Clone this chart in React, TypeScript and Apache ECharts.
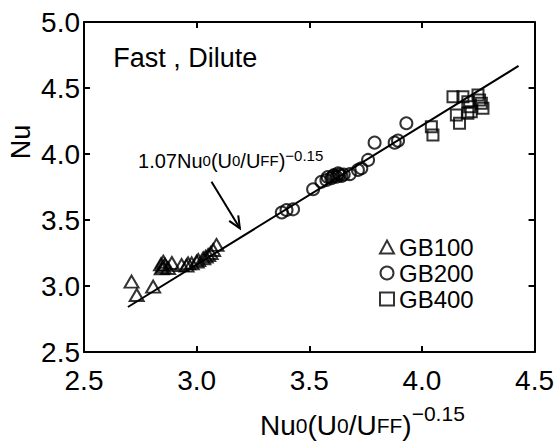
import React, { useEffect, useRef } from "react";
import * as echarts from "echarts";

// Axis settings
const X_MIN = 2.5;
const X_MAX = 4.5;
const Y_MIN = 2.5;
const Y_MAX = 5.0;
const TICK_INTERVAL = 0.5;

// GB100 (triangles)
const GB100: [number, number][] = [
  [2.711, 3.033],
  [2.734, 2.932],
  [2.807, 2.995],
  [2.852, 3.146],
  [2.873, 3.136],
  [2.845, 3.134],
  [2.852, 3.184],
  [2.86, 3.16],
  [2.842, 3.165],
  [2.89, 3.174],
  [2.933, 3.159],
  [2.955, 3.154],
  [2.962, 3.172],
  [2.978, 3.172],
  [3.0, 3.185],
  [3.007, 3.197],
  [3.029, 3.21],
  [3.04, 3.222],
  [3.051, 3.235],
  [3.062, 3.25],
  [3.073, 3.273],
  [3.088, 3.311],
];

// GB200 (circles)
const GB200: [number, number][] = [
  [3.378, 3.557],
  [3.399, 3.576],
  [3.428, 3.581],
  [3.517, 3.733],
  [3.554, 3.79],
  [3.576, 3.803],
  [3.582, 3.826],
  [3.598, 3.816],
  [3.605, 3.83],
  [3.61, 3.84],
  [3.621, 3.828],
  [3.628, 3.854],
  [3.635, 3.845],
  [3.643, 3.833],
  [3.653, 3.845],
  [3.68, 3.848],
  [3.716, 3.879],
  [3.731, 3.892],
  [3.761, 3.955],
  [3.79, 4.086],
  [3.879, 4.086],
  [3.894, 4.101],
  [3.931, 4.233],
];

// GB400 (squares)
const GB400: [number, number][] = [
  [4.138, 4.434],
  [4.182, 4.434],
  [4.204, 4.396],
  [4.249, 4.447],
  [4.256, 4.409],
  [4.264, 4.384],
  [4.271, 4.346],
  [4.212, 4.358],
  [4.204, 4.308],
  [4.219, 4.32],
  [4.153, 4.295],
  [4.167, 4.233],
  [4.042, 4.207],
  [4.049, 4.144],
];

// Correlation line 1.07 Nu0 (U0/UFF)^-0.15
const FIT_LINE: [number, number][] = [
  [2.695, 2.841],
  [4.429, 4.667],
];

// Annotation anchors (data coordinates)
const ARROW_FROM: [number, number] = [3.066, 3.79];
const ARROW_TO: [number, number] = [3.192, 3.437];
const EQ_ANCHOR: [number, number] = [2.74, 3.95];
const TITLE_ANCHOR: [number, number] = [2.63, 4.73];

const FONT = "Liberation Sans, Arial, sans-serif";

export default function App() {
  const ref = useRef<HTMLDivElement>(null);

  useEffect(() => {
    if (!ref.current) return;
    const chart = echarts.init(ref.current, null, { renderer: "svg" });

    const axisLine = { show: true, lineStyle: { color: "#000", width: 2 } };
    const axisTick = { show: true, inside: true, length: 6, lineStyle: { color: "#000", width: 2 } };
    const markerStyle = { color: "rgba(0,0,0,0)", borderColor: "#000", borderWidth: 2 };

    chart.setOption({
      animation: false,
      backgroundColor: "#fff",
      grid: { left: 84, right: 22, top: 22, bottom: 90 },
      xAxis: [
        {
          type: "value",
          min: X_MIN,
          max: X_MAX,
          interval: TICK_INTERVAL,
          axisLine,
          axisTick,
          splitLine: { show: false },
          axisLabel: {
            color: "#000",
            fontFamily: FONT,
            fontSize: 28,
            margin: 14,
            formatter: (v: number) => v.toFixed(1),
          },
        },
        {
          type: "value",
          position: "top",
          min: X_MIN,
          max: X_MAX,
          interval: TICK_INTERVAL,
          axisLine,
          axisTick,
          splitLine: { show: false },
          axisLabel: { show: false },
        },
      ],
      yAxis: [
        {
          type: "value",
          min: Y_MIN,
          max: Y_MAX,
          interval: TICK_INTERVAL,
          axisLine,
          axisTick,
          splitLine: { show: false },
          axisLabel: {
            color: "#000",
            fontFamily: FONT,
            fontSize: 28,
            margin: 4,
            formatter: (v: number) => v.toFixed(1),
          },
        },
        {
          type: "value",
          position: "right",
          min: Y_MIN,
          max: Y_MAX,
          interval: TICK_INTERVAL,
          axisLine,
          axisTick,
          splitLine: { show: false },
          axisLabel: { show: false },
        },
      ],
      legend: {
        orient: "vertical",
        left: 379,
        top: 235,
        itemWidth: 14,
        itemHeight: 13,
        itemGap: 2,
        padding: 0,
        data: ["GB100", "GB200", "GB400"],
        textStyle: { color: "#000", fontFamily: FONT, fontSize: 24 },
      },
      series: [
        {
          name: "fit",
          type: "line",
          data: FIT_LINE,
          symbol: "none",
          lineStyle: { color: "#000", width: 2 },
          z: 1,
        },
        {
          name: "GB100",
          type: "scatter",
          symbol: "triangle",
          symbolSize: [14, 12],
          data: GB100,
          itemStyle: markerStyle,
          z: 3,
        },
        {
          name: "GB200",
          type: "scatter",
          symbol: "circle",
          symbolSize: 12,
          data: GB200,
          itemStyle: markerStyle,
          z: 3,
        },
        {
          name: "GB400",
          type: "scatter",
          symbol: "rect",
          symbolSize: 11,
          data: GB400,
          itemStyle: markerStyle,
          z: 3,
        },
      ],
    });

    const toPx = (p: [number, number]) => chart.convertToPixel({ gridIndex: 0 }, p) as number[];
    const a0 = toPx(ARROW_FROM);
    const a1 = toPx(ARROW_TO);
    const eq = toPx(EQ_ANCHOR);
    const ttl = toPx(TITLE_ANCHOR);
    const ang = Math.atan2(a1[1] - a0[1], a1[0] - a0[0]);
    const headLen = 13;
    const spread = 0.42;
    const h1 = [a1[0] - headLen * Math.cos(ang - spread), a1[1] - headLen * Math.sin(ang - spread)];
    const h2 = [a1[0] - headLen * Math.cos(ang + spread), a1[1] - headLen * Math.sin(ang + spread)];

    chart.setOption({
      graphic: [
        {
          type: "text",
          x: ttl[0],
          y: ttl[1],
          style: {
            text: "Fast , Dilute",
            fontFamily: FONT,
            fontSize: 27,
            fill: "#000",
            align: "left",
            verticalAlign: "middle",
          },
        },
        {
          type: "text",
          x: eq[0],
          y: eq[1],
          style: {
            text: "{m|1.07Nu}{s|0}{m|(U}{s|0}{m|/U}{s|FF}{m|)}{p|−0.15}",
            fill: "#000",
            align: "left",
            verticalAlign: "middle",
            rich: {
              m: { fontFamily: FONT, fontSize: 20, lineHeight: 26, fill: "#000" },
              s: { fontFamily: FONT, fontSize: 15, lineHeight: 26, fill: "#000" },
              p: { fontFamily: FONT, fontSize: 15, lineHeight: 15, verticalAlign: "top", fill: "#000" },
            },
          },
        },
        {
          type: "line",
          shape: { x1: a0[0], y1: a0[1], x2: a1[0], y2: a1[1] },
          style: { stroke: "#000", lineWidth: 2 },
        },
        {
          type: "polyline",
          shape: { points: [h1, a1, h2] },
          style: { stroke: "#000", lineWidth: 2, fill: "none" },
        },
        {
          type: "text",
          x: 21,
          y: 142,
          rotation: Math.PI / 2,
          style: {
            text: "Nu",
            fontFamily: FONT,
            fontSize: 27,
            fill: "#000",
            align: "center",
            verticalAlign: "middle",
          },
        },
        {
          type: "text",
          x: 260,
          y: 425,
          style: {
            text: "{m|Nu}{s|0}{m|(U}{s|0}{m|/U}{s|FF}{m|)}{p|−0.15}",
            fill: "#000",
            align: "left",
            verticalAlign: "middle",
            rich: {
              m: { fontFamily: FONT, fontSize: 28, lineHeight: 44, fill: "#000" },
              s: { fontFamily: FONT, fontSize: 21, lineHeight: 44, fill: "#000" },
              p: { fontFamily: FONT, fontSize: 21, lineHeight: 21, verticalAlign: "top", fill: "#000" },
            },
          },
        },
      ],
    });

    return () => chart.dispose();
  }, []);

  return (
    <div
      ref={ref}
      style={{ position: "fixed", left: 0, top: 0, width: 557, height: 442, background: "#fff" }}
    />
  );
}
